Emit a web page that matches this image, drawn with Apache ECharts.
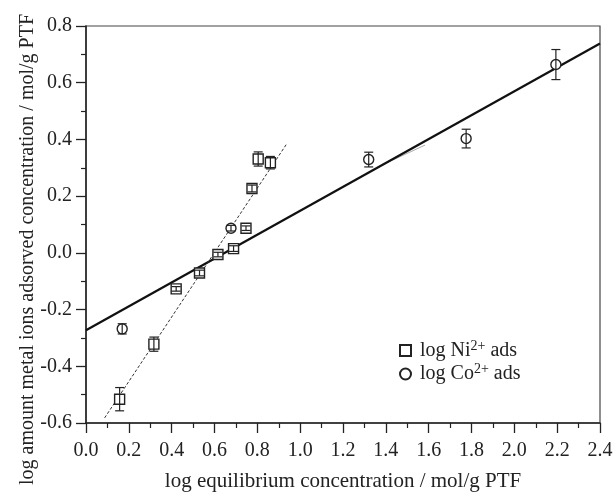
<!DOCTYPE html>
<html>
<head>
<meta charset="utf-8">
<script src="https://cdn.jsdelivr.net/npm/echarts@6/dist/echarts.min.js"></script>
<style>html,body{margin:0;padding:0;background:#fff;}#c{width:613px;height:493px;}</style>
</head>
<body>
<div id="c"></div>
<script>
// Ni2+ data
var niX = [0.157, 0.317, 0.421, 0.530, 0.616, 0.689, 0.747, 0.775, 0.804, 0.861];
var niY = [-0.516, -0.322, -0.127, -0.071, -0.006, 0.015, 0.087, 0.227, 0.331, 0.318];
var niErr = [0.041, 0.025, 0.008, 0.010, 0.008, 0.010, 0.008, 0.012, 0.025, 0.022];
// Co2+ data
var coX = [0.169, 0.677, 1.320, 1.775, 2.194];
var coY = [-0.268, 0.087, 0.329, 0.403, 0.664];
var coErr = [0.018, 0.010, 0.026, 0.033, 0.053];
// fit lines (endpoints)
var coFitX = [0.0, 2.4];
var coFitY = [-0.273, 0.738];
var niFitX = [0.087, 0.935];
var niFitY = [-0.582, 0.382];
var faintX = [1.397, 1.583];
var faintY = [0.315, 0.380];
// axis ticks
var xTicks = [0.0, 0.2, 0.4, 0.6, 0.8, 1.0, 1.2, 1.4, 1.6, 1.8, 2.0, 2.2, 2.4];
var yTicks = [-0.6, -0.4, -0.2, 0.0, 0.2, 0.4, 0.6, 0.8];

function zip(a, b) { return a.map(function (v, i) { return [v, b[i]]; }); }
function zip3(a, b, c) { return a.map(function (v, i) { return [v, b[i], c[i]]; }); }

var FONT = 'Liberation Serif';
var INK = '#222';

function errRender(params, api) {
  var x = api.value(0), y = api.value(1), e = api.value(2);
  var top = api.coord([x, y + e]);
  var bot = api.coord([x, y - e]);
  var hw = 4.5;
  return {
    type: 'group',
    children: [
      { type: 'line', shape: { x1: top[0], y1: top[1], x2: bot[0], y2: bot[1] }, style: { stroke: INK, lineWidth: 1.2 } },
      { type: 'line', shape: { x1: top[0] - hw, y1: top[1], x2: top[0] + hw, y2: top[1] }, style: { stroke: INK, lineWidth: 1.2 } },
      { type: 'line', shape: { x1: bot[0] - hw, y1: bot[1], x2: bot[0] + hw, y2: bot[1] }, style: { stroke: INK, lineWidth: 1.2 } }
    ]
  };
}

var chart = echarts.init(document.getElementById('c'), null, { renderer: 'canvas' });
var option = {
  animation: false,
  backgroundColor: '#fff',
  textStyle: { fontFamily: FONT },
  grid: { left: 86, right: 13, top: 26, bottom: 70, containLabel: false, outerBoundsMode: 'none', show: true, borderColor: '#444', borderWidth: 1.2, backgroundColor: 'transparent' },
  legend: {
    orient: 'vertical',
    left: 394, top: 334,
    itemWidth: 11, itemHeight: 11, itemGap: 2,
    data: ['Ni', 'Co'],
    formatter: function (n) { return n === 'Ni' ? 'log Ni{s|2+} ads' : 'log Co{s|2+} ads'; },
    textStyle: {
      fontFamily: FONT, fontSize: 20, color: INK, padding: [0, 0, 0, 4],
      rich: { s: { fontFamily: FONT, fontSize: 14, color: INK, padding: [0, 0, 9, 0] } }
    }
  },
  xAxis: {
    type: 'value', min: 0, max: 2.4, interval: 0.2,
    name: 'log equilibrium concentration / mol/g PTF',
    nameLocation: 'middle', nameGap: 48, nameMoveOverlap: false,
    nameTextStyle: { fontFamily: FONT, fontSize: 21, color: INK },
    axisLine: { show: true, onZero: false, lineStyle: { color: INK, width: 1.5 } },
    axisTick: { show: true, inside: false, length: 10, lineStyle: { color: INK, width: 1.3 } },
    minorTick: { show: true, splitNumber: 2, length: 5, lineStyle: { color: INK, width: 1.2 } },
    splitLine: { show: false },
    axisLabel: { fontFamily: FONT, fontSize: 20, color: INK, margin: 18, formatter: function (v) { return v.toFixed(1); } }
  },
  yAxis: {
    type: 'value', min: -0.6, max: 0.8, interval: 0.2,
    name: 'log amount metal ions adsorved concentration / mol/g PTF',
    nameLocation: 'middle', nameGap: 48, nameMoveOverlap: false,
    nameTextStyle: { fontFamily: FONT, fontSize: 20, color: INK, padding: [0, 50, 0, 0] },
    axisLine: { show: true, onZero: false, lineStyle: { color: INK, width: 1.5 } },
    axisTick: { show: true, inside: false, length: 10, lineStyle: { color: INK, width: 1.3 } },
    minorTick: { show: true, splitNumber: 2, length: 5, lineStyle: { color: INK, width: 1.2 } },
    splitLine: { show: false },
    axisLabel: { fontFamily: FONT, fontSize: 20, color: INK, margin: 14, formatter: function (v) { return v.toFixed(1); } }
  },
  series: [
    { name: 'coFit', type: 'line', data: zip(coFitX, coFitY), showSymbol: false, symbol: 'none', lineStyle: { color: '#111', width: 2.2 }, z: 2, silent: true },
    { name: 'niFit', type: 'line', data: zip(niFitX, niFitY), showSymbol: false, symbol: 'none', lineStyle: { color: '#333', width: 1, type: [3, 2] }, z: 2, silent: true },
    { name: 'faint', type: 'line', data: zip(faintX, faintY), showSymbol: false, symbol: 'none', lineStyle: { color: '#aaa', width: 1 }, z: 1, silent: true },
    { name: 'Ni', type: 'scatter', data: zip(niX, niY), symbol: 'rect', symbolSize: 10, itemStyle: { color: '#fff', borderColor: INK, borderWidth: 1.4, opacity: 1 }, z: 3 },
    { name: 'Co', type: 'scatter', data: zip(coX, coY), symbol: 'circle', symbolSize: 10, itemStyle: { color: '#fff', borderColor: INK, borderWidth: 1.4, opacity: 1 }, z: 3 },
    { name: 'niErr', type: 'custom', data: zip3(niX, niY, niErr), renderItem: errRender, z: 4, silent: true },
    { name: 'coErr', type: 'custom', data: zip3(coX, coY, coErr), renderItem: errRender, z: 4, silent: true }
  ]
};
chart.setOption(option);
</script>
</body>
</html>
